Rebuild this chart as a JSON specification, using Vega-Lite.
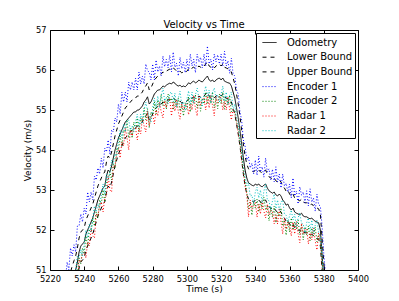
{
"$schema": "https://vega.github.io/schema/vega-lite/v6.json",
"width": 308, "height": 240,
"autosize": {"type": "none"},
"padding": {"left": 50, "top": 30, "right": 41, "bottom": 31},
"background": "white",
"title": {"text": "Velocity vs Time", "fontSize": 10, "font": "DejaVu Sans", "fontWeight": "normal", "color": "black", "offset": -5},
"config": {
  "view": {"stroke": "black", "strokeWidth": 1},
  "axis": {"grid": false, "domain": false, "tickColor": "black", "tickSize": -4, "tickWidth": 1, "labelFont": "DejaVu Sans", "labelFontSize": 8.3, "labelColor": "black", "titleFont": "DejaVu Sans", "titleFontSize": 9, "titleFontWeight": "normal", "titleColor": "black", "labelPadding": 8, "labelFlush": false, "labelOverlap": false},
  "legend": {"orient": "top-right", "offset": 3, "fillColor": "white", "strokeColor": "black", "padding": 2, "symbolOffset": 4, "symbolType": "stroke", "symbolSize": 196, "symbolStrokeWidth": 1, "labelFont": "DejaVu Sans", "labelFontSize": 10, "labelColor": "black", "labelOffset": 10, "rowPadding": 1.7}
},
"layer": [
{
"data": {"values": [
{"t":5228,"Odometry":50.05,"Lower Bound":49.65,"Upper Bound":50.4,"Encoder 1":50.85,"Encoder 2":49.6,"Radar 1":49.65,"Radar 2":49.95},
{"t":5229,"Odometry":50.2,"Lower Bound":49.8,"Upper Bound":50.55,"Encoder 1":50.75,"Encoder 2":50.1,"Radar 1":49.95,"Radar 2":49.9},
{"t":5230,"Odometry":50.35,"Lower Bound":49.95,"Upper Bound":50.7,"Encoder 1":51.2,"Encoder 2":50.05,"Radar 1":50.1,"Radar 2":50.3},
{"t":5231,"Odometry":50.5,"Lower Bound":50.1,"Upper Bound":50.85,"Encoder 1":51.0,"Encoder 2":50.45,"Radar 1":49.9,"Radar 2":50.6},
{"t":5232,"Odometry":50.6,"Lower Bound":50.2,"Upper Bound":50.95,"Encoder 1":51.55,"Encoder 2":50.2,"Radar 1":50.3,"Radar 2":50.4},
{"t":5233,"Odometry":50.75,"Lower Bound":50.35,"Upper Bound":51.1,"Encoder 1":51.35,"Encoder 2":50.65,"Radar 1":50.25,"Radar 2":50.8},
{"t":5234,"Odometry":50.88,"Lower Bound":50.48,"Upper Bound":51.23,"Encoder 1":51.63,"Encoder 2":50.63,"Radar 1":50.73,"Radar 2":50.63},
{"t":5235,"Odometry":51.0,"Lower Bound":50.6,"Upper Bound":51.35,"Encoder 1":51.45,"Encoder 2":51.0,"Radar 1":50.55,"Radar 2":51.0},
{"t":5236,"Odometry":51.2,"Lower Bound":50.8,"Upper Bound":51.55,"Encoder 1":52.1,"Encoder 2":50.85,"Radar 1":50.55,"Radar 2":51.35},
{"t":5237,"Odometry":51.45,"Lower Bound":51.05,"Upper Bound":51.8,"Encoder 1":52.1,"Encoder 2":51.3,"Radar 1":51.25,"Radar 2":51.3},
{"t":5238,"Odometry":51.6,"Lower Bound":51.2,"Upper Bound":51.95,"Encoder 1":52.4,"Encoder 2":51.15,"Radar 1":51.2,"Radar 2":51.5},
{"t":5239,"Odometry":51.65,"Lower Bound":51.25,"Upper Bound":52.0,"Encoder 1":52.2,"Encoder 2":51.55,"Radar 1":51.4,"Radar 2":51.35},
{"t":5240,"Odometry":51.7,"Lower Bound":51.3,"Upper Bound":52.05,"Encoder 1":52.55,"Encoder 2":51.4,"Radar 1":51.45,"Radar 2":51.65},
{"t":5241,"Odometry":51.9,"Lower Bound":51.5,"Upper Bound":52.25,"Encoder 1":52.4,"Encoder 2":51.85,"Radar 1":51.3,"Radar 2":52.0},
{"t":5242,"Odometry":52.0,"Lower Bound":51.6,"Upper Bound":52.35,"Encoder 1":52.95,"Encoder 2":51.6,"Radar 1":51.7,"Radar 2":51.8},
{"t":5243,"Odometry":52.1,"Lower Bound":51.7,"Upper Bound":52.45,"Encoder 1":52.7,"Encoder 2":52.0,"Radar 1":51.6,"Radar 2":52.15},
{"t":5244,"Odometry":52.2,"Lower Bound":51.8,"Upper Bound":52.55,"Encoder 1":52.95,"Encoder 2":51.95,"Radar 1":52.05,"Radar 2":51.95},
{"t":5245,"Odometry":52.3,"Lower Bound":51.9,"Upper Bound":52.65,"Encoder 1":52.75,"Encoder 2":52.3,"Radar 1":51.85,"Radar 2":52.3},
{"t":5246,"Odometry":52.45,"Lower Bound":52.05,"Upper Bound":52.8,"Encoder 1":53.35,"Encoder 2":52.1,"Radar 1":51.8,"Radar 2":52.6},
{"t":5247,"Odometry":52.6,"Lower Bound":52.2,"Upper Bound":52.95,"Encoder 1":53.25,"Encoder 2":52.45,"Radar 1":52.4,"Radar 2":52.45},
{"t":5248,"Odometry":52.75,"Lower Bound":52.35,"Upper Bound":53.1,"Encoder 1":53.55,"Encoder 2":52.3,"Radar 1":52.35,"Radar 2":52.65},
{"t":5249,"Odometry":52.85,"Lower Bound":52.45,"Upper Bound":53.2,"Encoder 1":53.4,"Encoder 2":52.75,"Radar 1":52.6,"Radar 2":52.55},
{"t":5250,"Odometry":52.95,"Lower Bound":52.55,"Upper Bound":53.3,"Encoder 1":53.8,"Encoder 2":52.65,"Radar 1":52.7,"Radar 2":52.9},
{"t":5251,"Odometry":53.05,"Lower Bound":52.65,"Upper Bound":53.4,"Encoder 1":53.55,"Encoder 2":53.0,"Radar 1":52.45,"Radar 2":53.15},
{"t":5252,"Odometry":53.1,"Lower Bound":52.7,"Upper Bound":53.45,"Encoder 1":54.05,"Encoder 2":52.7,"Radar 1":52.8,"Radar 2":52.9},
{"t":5253,"Odometry":53.35,"Lower Bound":52.95,"Upper Bound":53.7,"Encoder 1":53.95,"Encoder 2":53.25,"Radar 1":52.85,"Radar 2":53.4},
{"t":5254,"Odometry":53.5,"Lower Bound":53.1,"Upper Bound":53.85,"Encoder 1":54.25,"Encoder 2":53.25,"Radar 1":53.35,"Radar 2":53.25},
{"t":5255,"Odometry":53.45,"Lower Bound":53.05,"Upper Bound":53.8,"Encoder 1":53.9,"Encoder 2":53.45,"Radar 1":53.0,"Radar 2":53.45},
{"t":5256,"Odometry":53.6,"Lower Bound":53.2,"Upper Bound":53.95,"Encoder 1":54.5,"Encoder 2":53.25,"Radar 1":52.95,"Radar 2":53.75},
{"t":5257,"Odometry":53.8,"Lower Bound":53.4,"Upper Bound":54.15,"Encoder 1":54.45,"Encoder 2":53.65,"Radar 1":53.6,"Radar 2":53.65},
{"t":5258,"Odometry":54.0,"Lower Bound":53.6,"Upper Bound":54.35,"Encoder 1":54.8,"Encoder 2":53.55,"Radar 1":53.6,"Radar 2":53.9},
{"t":5259,"Odometry":54.15,"Lower Bound":53.75,"Upper Bound":54.5,"Encoder 1":54.7,"Encoder 2":54.05,"Radar 1":53.9,"Radar 2":53.85},
{"t":5260,"Odometry":54.3,"Lower Bound":53.9,"Upper Bound":54.65,"Encoder 1":55.15,"Encoder 2":54.0,"Radar 1":54.05,"Radar 2":54.25},
{"t":5261,"Odometry":54.4,"Lower Bound":54.0,"Upper Bound":54.75,"Encoder 1":54.9,"Encoder 2":54.35,"Radar 1":53.8,"Radar 2":54.5},
{"t":5262,"Odometry":54.5,"Lower Bound":54.1,"Upper Bound":54.85,"Encoder 1":55.45,"Encoder 2":54.1,"Radar 1":54.2,"Radar 2":54.3},
{"t":5263,"Odometry":54.6,"Lower Bound":54.2,"Upper Bound":54.95,"Encoder 1":55.2,"Encoder 2":54.5,"Radar 1":54.1,"Radar 2":54.65},
{"t":5264,"Odometry":54.7,"Lower Bound":54.3,"Upper Bound":55.05,"Encoder 1":55.45,"Encoder 2":54.45,"Radar 1":54.55,"Radar 2":54.45},
{"t":5265,"Odometry":54.75,"Lower Bound":54.35,"Upper Bound":55.1,"Encoder 1":55.2,"Encoder 2":54.75,"Radar 1":54.3,"Radar 2":54.75},
{"t":5266,"Odometry":54.8,"Lower Bound":54.4,"Upper Bound":55.15,"Encoder 1":55.7,"Encoder 2":54.3,"Radar 1":54.0,"Radar 2":54.75},
{"t":5267,"Odometry":54.85,"Lower Bound":54.45,"Upper Bound":55.2,"Encoder 1":55.5,"Encoder 2":54.55,"Radar 1":54.5,"Radar 2":54.5},
{"t":5268,"Odometry":54.9,"Lower Bound":54.5,"Upper Bound":55.25,"Encoder 1":55.7,"Encoder 2":54.3,"Radar 1":54.35,"Radar 2":54.6},
{"t":5269,"Odometry":54.95,"Lower Bound":54.55,"Upper Bound":55.3,"Encoder 1":55.5,"Encoder 2":54.7,"Radar 1":54.55,"Radar 2":54.45},
{"t":5270,"Odometry":54.95,"Lower Bound":54.55,"Upper Bound":55.3,"Encoder 1":55.8,"Encoder 2":54.5,"Radar 1":54.55,"Radar 2":54.7},
{"t":5271,"Odometry":55.0,"Lower Bound":54.6,"Upper Bound":55.35,"Encoder 1":55.5,"Encoder 2":54.8,"Radar 1":54.25,"Radar 2":54.9},
{"t":5272,"Odometry":55.0,"Lower Bound":54.6,"Upper Bound":55.35,"Encoder 1":55.95,"Encoder 2":54.45,"Radar 1":54.55,"Radar 2":54.6},
{"t":5273,"Odometry":55.05,"Lower Bound":54.65,"Upper Bound":55.4,"Encoder 1":55.65,"Encoder 2":54.8,"Radar 1":54.4,"Radar 2":54.9},
{"t":5274,"Odometry":55.1,"Lower Bound":54.7,"Upper Bound":55.45,"Encoder 1":55.85,"Encoder 2":54.7,"Radar 1":54.8,"Radar 2":54.65},
{"t":5275,"Odometry":55.2,"Lower Bound":54.8,"Upper Bound":55.55,"Encoder 1":55.65,"Encoder 2":55.05,"Radar 1":54.6,"Radar 2":55.0},
{"t":5276,"Odometry":55.25,"Lower Bound":54.85,"Upper Bound":55.6,"Encoder 1":56.15,"Encoder 2":54.75,"Radar 1":54.45,"Radar 2":55.2},
{"t":5277,"Odometry":55.33,"Lower Bound":54.93,"Upper Bound":55.68,"Encoder 1":55.98,"Encoder 2":55.03,"Radar 1":54.98,"Radar 2":54.98},
{"t":5278,"Odometry":55.15,"Lower Bound":54.75,"Upper Bound":55.5,"Encoder 1":55.95,"Encoder 2":54.55,"Radar 1":54.6,"Radar 2":54.85},
{"t":5279,"Odometry":55.2,"Lower Bound":54.8,"Upper Bound":55.55,"Encoder 1":55.75,"Encoder 2":54.95,"Radar 1":54.8,"Radar 2":54.7},
{"t":5280,"Odometry":55.3,"Lower Bound":54.9,"Upper Bound":55.65,"Encoder 1":56.15,"Encoder 2":54.85,"Radar 1":54.9,"Radar 2":55.05},
{"t":5281,"Odometry":55.4,"Lower Bound":55.0,"Upper Bound":55.75,"Encoder 1":55.75,"Encoder 2":55.2,"Radar 1":54.65,"Radar 2":55.3},
{"t":5282,"Odometry":55.45,"Lower Bound":55.05,"Upper Bound":55.8,"Encoder 1":56.25,"Encoder 2":54.9,"Radar 1":55.0,"Radar 2":55.05},
{"t":5283,"Odometry":55.5,"Lower Bound":55.1,"Upper Bound":55.85,"Encoder 1":55.95,"Encoder 2":55.25,"Radar 1":54.85,"Radar 2":55.35},
{"t":5284,"Odometry":55.5,"Lower Bound":55.1,"Upper Bound":55.85,"Encoder 1":56.1,"Encoder 2":55.1,"Radar 1":55.2,"Radar 2":55.05},
{"t":5285,"Odometry":55.55,"Lower Bound":55.15,"Upper Bound":55.9,"Encoder 1":55.85,"Encoder 2":55.4,"Radar 1":54.95,"Radar 2":55.35},
{"t":5286,"Odometry":55.6,"Lower Bound":55.2,"Upper Bound":55.95,"Encoder 1":56.35,"Encoder 2":55.1,"Radar 1":54.8,"Radar 2":55.55},
{"t":5287,"Odometry":55.58,"Lower Bound":55.18,"Upper Bound":55.93,"Encoder 1":56.08,"Encoder 2":55.28,"Radar 1":55.23,"Radar 2":55.23},
{"t":5288,"Odometry":55.62,"Lower Bound":55.22,"Upper Bound":55.97,"Encoder 1":56.27,"Encoder 2":55.02,"Radar 1":55.07,"Radar 2":55.32},
{"t":5289,"Odometry":55.65,"Lower Bound":55.25,"Upper Bound":56.0,"Encoder 1":56.05,"Encoder 2":55.4,"Radar 1":55.25,"Radar 2":55.15},
{"t":5290,"Odometry":55.67,"Lower Bound":55.27,"Upper Bound":56.02,"Encoder 1":56.37,"Encoder 2":55.22,"Radar 1":55.27,"Radar 2":55.42},
{"t":5291,"Odometry":55.65,"Lower Bound":55.25,"Upper Bound":56.0,"Encoder 1":55.95,"Encoder 2":55.3,"Radar 1":54.85,"Radar 2":55.45},
{"t":5292,"Odometry":55.7,"Lower Bound":55.3,"Upper Bound":56.05,"Encoder 1":56.45,"Encoder 2":55.0,"Radar 1":55.2,"Radar 2":55.2},
{"t":5293,"Odometry":55.67,"Lower Bound":55.27,"Upper Bound":56.02,"Encoder 1":56.07,"Encoder 2":55.27,"Radar 1":54.97,"Radar 2":55.42},
{"t":5294,"Odometry":55.62,"Lower Bound":55.22,"Upper Bound":55.97,"Encoder 1":56.17,"Encoder 2":55.07,"Radar 1":55.27,"Radar 2":55.07},
{"t":5295,"Odometry":55.6,"Lower Bound":55.2,"Upper Bound":55.95,"Encoder 1":55.85,"Encoder 2":55.3,"Radar 1":54.95,"Radar 2":55.3},
{"t":5296,"Odometry":55.62,"Lower Bound":55.22,"Upper Bound":55.97,"Encoder 1":56.32,"Encoder 2":54.97,"Radar 1":54.77,"Radar 2":55.47},
{"t":5297,"Odometry":55.58,"Lower Bound":55.18,"Upper Bound":55.93,"Encoder 1":56.03,"Encoder 2":55.13,"Radar 1":55.18,"Radar 2":55.13},
{"t":5298,"Odometry":55.6,"Lower Bound":55.2,"Upper Bound":55.95,"Encoder 1":56.2,"Encoder 2":54.85,"Radar 1":55.0,"Radar 2":55.2},
{"t":5299,"Odometry":55.58,"Lower Bound":55.18,"Upper Bound":55.93,"Encoder 1":55.93,"Encoder 2":55.18,"Radar 1":55.13,"Radar 2":54.98},
{"t":5300,"Odometry":55.62,"Lower Bound":55.22,"Upper Bound":55.97,"Encoder 1":56.27,"Encoder 2":55.02,"Radar 1":55.17,"Radar 2":55.27},
{"t":5301,"Odometry":55.68,"Lower Bound":55.28,"Upper Bound":56.03,"Encoder 1":55.98,"Encoder 2":55.33,"Radar 1":54.88,"Radar 2":55.48},
{"t":5302,"Odometry":55.65,"Lower Bound":55.25,"Upper Bound":56.0,"Encoder 1":56.4,"Encoder 2":54.95,"Radar 1":55.15,"Radar 2":55.15},
{"t":5303,"Odometry":55.7,"Lower Bound":55.3,"Upper Bound":56.05,"Encoder 1":56.1,"Encoder 2":55.3,"Radar 1":55.0,"Radar 2":55.45},
{"t":5304,"Odometry":55.72,"Lower Bound":55.32,"Upper Bound":56.07,"Encoder 1":56.27,"Encoder 2":55.17,"Radar 1":55.37,"Radar 2":55.17},
{"t":5305,"Odometry":55.68,"Lower Bound":55.28,"Upper Bound":56.03,"Encoder 1":55.93,"Encoder 2":55.38,"Radar 1":55.03,"Radar 2":55.38},
{"t":5306,"Odometry":55.7,"Lower Bound":55.3,"Upper Bound":56.05,"Encoder 1":56.4,"Encoder 2":55.05,"Radar 1":54.85,"Radar 2":55.55},
{"t":5307,"Odometry":55.75,"Lower Bound":55.35,"Upper Bound":56.1,"Encoder 1":56.2,"Encoder 2":55.3,"Radar 1":55.35,"Radar 2":55.3},
{"t":5308,"Odometry":55.72,"Lower Bound":55.32,"Upper Bound":56.07,"Encoder 1":56.32,"Encoder 2":54.97,"Radar 1":55.12,"Radar 2":55.32},
{"t":5309,"Odometry":55.7,"Lower Bound":55.3,"Upper Bound":56.05,"Encoder 1":56.05,"Encoder 2":55.3,"Radar 1":55.25,"Radar 2":55.1},
{"t":5310,"Odometry":55.75,"Lower Bound":55.35,"Upper Bound":56.1,"Encoder 1":56.4,"Encoder 2":55.15,"Radar 1":55.3,"Radar 2":55.4},
{"t":5311,"Odometry":55.8,"Lower Bound":55.4,"Upper Bound":56.15,"Encoder 1":56.1,"Encoder 2":55.45,"Radar 1":55.0,"Radar 2":55.6},
{"t":5312,"Odometry":55.85,"Lower Bound":55.45,"Upper Bound":56.2,"Encoder 1":56.6,"Encoder 2":55.15,"Radar 1":55.35,"Radar 2":55.35},
{"t":5313,"Odometry":55.75,"Lower Bound":55.35,"Upper Bound":56.1,"Encoder 1":56.15,"Encoder 2":55.35,"Radar 1":55.05,"Radar 2":55.5},
{"t":5314,"Odometry":55.72,"Lower Bound":55.32,"Upper Bound":56.07,"Encoder 1":56.27,"Encoder 2":55.17,"Radar 1":55.37,"Radar 2":55.17},
{"t":5315,"Odometry":55.75,"Lower Bound":55.35,"Upper Bound":56.1,"Encoder 1":56.0,"Encoder 2":55.45,"Radar 1":55.1,"Radar 2":55.45},
{"t":5316,"Odometry":55.7,"Lower Bound":55.3,"Upper Bound":56.05,"Encoder 1":56.4,"Encoder 2":55.05,"Radar 1":54.85,"Radar 2":55.55},
{"t":5317,"Odometry":55.75,"Lower Bound":55.35,"Upper Bound":56.1,"Encoder 1":56.2,"Encoder 2":55.3,"Radar 1":55.35,"Radar 2":55.3},
{"t":5318,"Odometry":55.78,"Lower Bound":55.38,"Upper Bound":56.13,"Encoder 1":56.38,"Encoder 2":55.03,"Radar 1":55.18,"Radar 2":55.38},
{"t":5319,"Odometry":55.8,"Lower Bound":55.4,"Upper Bound":56.15,"Encoder 1":56.15,"Encoder 2":55.4,"Radar 1":55.35,"Radar 2":55.2},
{"t":5320,"Odometry":55.75,"Lower Bound":55.35,"Upper Bound":56.1,"Encoder 1":56.4,"Encoder 2":55.15,"Radar 1":55.3,"Radar 2":55.4},
{"t":5321,"Odometry":55.8,"Lower Bound":55.4,"Upper Bound":56.15,"Encoder 1":56.1,"Encoder 2":55.45,"Radar 1":55.0,"Radar 2":55.6},
{"t":5322,"Odometry":55.72,"Lower Bound":55.32,"Upper Bound":56.07,"Encoder 1":56.47,"Encoder 2":55.02,"Radar 1":55.22,"Radar 2":55.22},
{"t":5323,"Odometry":55.7,"Lower Bound":55.3,"Upper Bound":56.05,"Encoder 1":56.1,"Encoder 2":55.3,"Radar 1":55.0,"Radar 2":55.45},
{"t":5324,"Odometry":55.68,"Lower Bound":55.28,"Upper Bound":56.03,"Encoder 1":56.23,"Encoder 2":55.13,"Radar 1":55.33,"Radar 2":55.13},
{"t":5325,"Odometry":55.67,"Lower Bound":55.27,"Upper Bound":56.02,"Encoder 1":55.92,"Encoder 2":55.37,"Radar 1":55.02,"Radar 2":55.37},
{"t":5326,"Odometry":55.6,"Lower Bound":55.2,"Upper Bound":55.95,"Encoder 1":56.3,"Encoder 2":54.95,"Radar 1":54.75,"Radar 2":55.45},
{"t":5327,"Odometry":55.45,"Lower Bound":55.05,"Upper Bound":55.8,"Encoder 1":55.9,"Encoder 2":55.0,"Radar 1":55.05,"Radar 2":55.0},
{"t":5328,"Odometry":55.3,"Lower Bound":54.9,"Upper Bound":55.65,"Encoder 1":55.85,"Encoder 2":55.0,"Radar 1":54.9,"Radar 2":55.15},
{"t":5329,"Odometry":55.05,"Lower Bound":54.65,"Upper Bound":55.4,"Encoder 1":55.5,"Encoder 2":54.7,"Radar 1":54.75,"Radar 2":54.8},
{"t":5330,"Odometry":54.8,"Lower Bound":54.4,"Upper Bound":55.15,"Encoder 1":55.4,"Encoder 2":54.55,"Radar 1":54.4,"Radar 2":54.65},
{"t":5331,"Odometry":54.5,"Lower Bound":54.1,"Upper Bound":54.85,"Encoder 1":54.95,"Encoder 2":54.15,"Radar 1":54.2,"Radar 2":54.25},
{"t":5332,"Odometry":54.15,"Lower Bound":53.75,"Upper Bound":54.5,"Encoder 1":54.75,"Encoder 2":53.9,"Radar 1":53.75,"Radar 2":54.0},
{"t":5333,"Odometry":53.8,"Lower Bound":53.4,"Upper Bound":54.15,"Encoder 1":54.25,"Encoder 2":53.45,"Radar 1":53.5,"Radar 2":53.55},
{"t":5334,"Odometry":53.5,"Lower Bound":53.1,"Upper Bound":53.85,"Encoder 1":54.1,"Encoder 2":53.2,"Radar 1":53.1,"Radar 2":53.35},
{"t":5335,"Odometry":53.3,"Lower Bound":52.9,"Upper Bound":53.65,"Encoder 1":53.75,"Encoder 2":52.95,"Radar 1":52.9,"Radar 2":53.1},
{"t":5336,"Odometry":53.18,"Lower Bound":52.78,"Upper Bound":53.53,"Encoder 1":53.83,"Encoder 2":52.53,"Radar 1":52.33,"Radar 2":53.18},
{"t":5337,"Odometry":53.15,"Lower Bound":52.75,"Upper Bound":53.5,"Encoder 1":53.55,"Encoder 2":52.7,"Radar 1":52.75,"Radar 2":52.85},
{"t":5338,"Odometry":53.12,"Lower Bound":52.72,"Upper Bound":53.47,"Encoder 1":53.67,"Encoder 2":52.37,"Radar 1":52.52,"Radar 2":52.87},
{"t":5339,"Odometry":53.1,"Lower Bound":52.7,"Upper Bound":53.45,"Encoder 1":53.4,"Encoder 2":52.7,"Radar 1":52.65,"Radar 2":52.65},
{"t":5340,"Odometry":53.15,"Lower Bound":52.75,"Upper Bound":53.5,"Encoder 1":53.75,"Encoder 2":52.55,"Radar 1":52.7,"Radar 2":52.95},
{"t":5341,"Odometry":53.12,"Lower Bound":52.72,"Upper Bound":53.47,"Encoder 1":53.37,"Encoder 2":52.77,"Radar 1":52.32,"Radar 2":53.07},
{"t":5342,"Odometry":53.15,"Lower Bound":52.75,"Upper Bound":53.5,"Encoder 1":53.85,"Encoder 2":52.45,"Radar 1":52.65,"Radar 2":52.8},
{"t":5343,"Odometry":53.1,"Lower Bound":52.7,"Upper Bound":53.45,"Encoder 1":53.45,"Encoder 2":52.7,"Radar 1":52.4,"Radar 2":53.0},
{"t":5344,"Odometry":53.08,"Lower Bound":52.68,"Upper Bound":53.43,"Encoder 1":53.58,"Encoder 2":52.53,"Radar 1":52.73,"Radar 2":52.68},
{"t":5345,"Odometry":53.12,"Lower Bound":52.72,"Upper Bound":53.47,"Encoder 1":53.32,"Encoder 2":52.82,"Radar 1":52.47,"Radar 2":52.97},
{"t":5346,"Odometry":53.15,"Lower Bound":52.75,"Upper Bound":53.5,"Encoder 1":53.8,"Encoder 2":52.5,"Radar 1":52.3,"Radar 2":53.15},
{"t":5347,"Odometry":53.05,"Lower Bound":52.65,"Upper Bound":53.4,"Encoder 1":53.45,"Encoder 2":52.6,"Radar 1":52.65,"Radar 2":52.75},
{"t":5348,"Odometry":52.98,"Lower Bound":52.58,"Upper Bound":53.33,"Encoder 1":53.53,"Encoder 2":52.23,"Radar 1":52.38,"Radar 2":52.73},
{"t":5349,"Odometry":52.95,"Lower Bound":52.55,"Upper Bound":53.3,"Encoder 1":53.25,"Encoder 2":52.55,"Radar 1":52.5,"Radar 2":52.5},
{"t":5350,"Odometry":52.92,"Lower Bound":52.52,"Upper Bound":53.27,"Encoder 1":53.52,"Encoder 2":52.32,"Radar 1":52.47,"Radar 2":52.72},
{"t":5351,"Odometry":52.95,"Lower Bound":52.55,"Upper Bound":53.3,"Encoder 1":53.2,"Encoder 2":52.6,"Radar 1":52.15,"Radar 2":52.9},
{"t":5352,"Odometry":52.88,"Lower Bound":52.48,"Upper Bound":53.23,"Encoder 1":53.58,"Encoder 2":52.18,"Radar 1":52.38,"Radar 2":52.53},
{"t":5353,"Odometry":52.85,"Lower Bound":52.45,"Upper Bound":53.2,"Encoder 1":53.2,"Encoder 2":52.45,"Radar 1":52.15,"Radar 2":52.75},
{"t":5354,"Odometry":52.9,"Lower Bound":52.5,"Upper Bound":53.25,"Encoder 1":53.4,"Encoder 2":52.35,"Radar 1":52.55,"Radar 2":52.5},
{"t":5355,"Odometry":52.85,"Lower Bound":52.45,"Upper Bound":53.2,"Encoder 1":53.05,"Encoder 2":52.55,"Radar 1":52.2,"Radar 2":52.7},
{"t":5356,"Odometry":52.75,"Lower Bound":52.35,"Upper Bound":53.1,"Encoder 1":53.4,"Encoder 2":52.1,"Radar 1":51.9,"Radar 2":52.75},
{"t":5357,"Odometry":52.7,"Lower Bound":52.3,"Upper Bound":53.05,"Encoder 1":53.1,"Encoder 2":52.25,"Radar 1":52.3,"Radar 2":52.4},
{"t":5358,"Odometry":52.62,"Lower Bound":52.22,"Upper Bound":52.97,"Encoder 1":53.17,"Encoder 2":51.87,"Radar 1":52.02,"Radar 2":52.37},
{"t":5359,"Odometry":52.65,"Lower Bound":52.25,"Upper Bound":53.0,"Encoder 1":52.95,"Encoder 2":52.25,"Radar 1":52.2,"Radar 2":52.2},
{"t":5360,"Odometry":52.55,"Lower Bound":52.15,"Upper Bound":52.9,"Encoder 1":53.15,"Encoder 2":51.95,"Radar 1":52.1,"Radar 2":52.35},
{"t":5361,"Odometry":52.5,"Lower Bound":52.1,"Upper Bound":52.85,"Encoder 1":52.8,"Encoder 2":52.3,"Radar 1":51.85,"Radar 2":52.5},
{"t":5362,"Odometry":52.55,"Lower Bound":52.15,"Upper Bound":52.9,"Encoder 1":53.3,"Encoder 2":52.0,"Radar 1":52.2,"Radar 2":52.25},
{"t":5363,"Odometry":52.45,"Lower Bound":52.05,"Upper Bound":52.8,"Encoder 1":52.85,"Encoder 2":52.2,"Radar 1":51.9,"Radar 2":52.4},
{"t":5364,"Odometry":52.42,"Lower Bound":52.02,"Upper Bound":52.77,"Encoder 1":52.97,"Encoder 2":52.02,"Radar 1":52.22,"Radar 2":52.07},
{"t":5365,"Odometry":52.4,"Lower Bound":52.0,"Upper Bound":52.75,"Encoder 1":52.65,"Encoder 2":52.25,"Radar 1":51.9,"Radar 2":52.3},
{"t":5366,"Odometry":52.38,"Lower Bound":51.98,"Upper Bound":52.73,"Encoder 1":53.08,"Encoder 2":51.88,"Radar 1":51.68,"Radar 2":52.43},
{"t":5367,"Odometry":52.42,"Lower Bound":52.02,"Upper Bound":52.77,"Encoder 1":52.87,"Encoder 2":52.12,"Radar 1":52.17,"Radar 2":52.17},
{"t":5368,"Odometry":52.35,"Lower Bound":51.95,"Upper Bound":52.7,"Encoder 1":52.95,"Encoder 2":51.75,"Radar 1":51.9,"Radar 2":52.15},
{"t":5369,"Odometry":52.33,"Lower Bound":51.93,"Upper Bound":52.68,"Encoder 1":52.68,"Encoder 2":52.08,"Radar 1":52.03,"Radar 2":51.93},
{"t":5370,"Odometry":52.33,"Lower Bound":51.93,"Upper Bound":52.68,"Encoder 1":52.98,"Encoder 2":51.88,"Radar 1":52.03,"Radar 2":52.18},
{"t":5371,"Odometry":52.3,"Lower Bound":51.9,"Upper Bound":52.65,"Encoder 1":52.6,"Encoder 2":52.1,"Radar 1":51.65,"Radar 2":52.3},
{"t":5372,"Odometry":52.28,"Lower Bound":51.88,"Upper Bound":52.63,"Encoder 1":53.03,"Encoder 2":51.73,"Radar 1":51.93,"Radar 2":51.98},
{"t":5373,"Odometry":52.3,"Lower Bound":51.9,"Upper Bound":52.65,"Encoder 1":52.7,"Encoder 2":52.05,"Radar 1":51.75,"Radar 2":52.25},
{"t":5374,"Odometry":52.25,"Lower Bound":51.85,"Upper Bound":52.6,"Encoder 1":52.8,"Encoder 2":51.85,"Radar 1":52.05,"Radar 2":51.9},
{"t":5375,"Odometry":52.22,"Lower Bound":51.82,"Upper Bound":52.57,"Encoder 1":52.47,"Encoder 2":52.07,"Radar 1":51.72,"Radar 2":52.12},
{"t":5376,"Odometry":52.2,"Lower Bound":51.8,"Upper Bound":52.55,"Encoder 1":52.9,"Encoder 2":51.7,"Radar 1":51.5,"Radar 2":52.25},
{"t":5377,"Odometry":52.18,"Lower Bound":51.78,"Upper Bound":52.53,"Encoder 1":52.63,"Encoder 2":51.88,"Radar 1":51.93,"Radar 2":51.93},
{"t":5378,"Odometry":52.0,"Lower Bound":51.6,"Upper Bound":52.4,"Encoder 1":52.6,"Encoder 2":51.7,"Radar 1":51.75,"Radar 2":51.85},
{"t":5379,"Odometry":51.4,"Lower Bound":51.0,"Upper Bound":51.8,"Encoder 1":52.1,"Encoder 2":51.2,"Radar 1":51.1,"Radar 2":51.3},
{"t":5380,"Odometry":50.8,"Lower Bound":50.4,"Upper Bound":51.2,"Encoder 1":51.4,"Encoder 2":50.6,"Radar 1":50.55,"Radar 2":50.7},
{"t":5381,"Odometry":50.3,"Lower Bound":49.9,"Upper Bound":50.7,"Encoder 1":50.9,"Encoder 2":50.1,"Radar 1":50.0,"Radar 2":50.2},
{"t":5382,"Odometry":50.0,"Lower Bound":49.6,"Upper Bound":50.4,"Encoder 1":50.4,"Encoder 2":49.8,"Radar 1":49.7,"Radar 2":49.9}
]},
"transform": [{"fold": ["Odometry", "Lower Bound", "Upper Bound", "Encoder 1", "Encoder 2", "Radar 1", "Radar 2"], "as": ["series", "v"]}],
"mark": {"type": "line", "clip": true, "strokeWidth": 1},
"encoding": {
  "x": {"field": "t", "type": "quantitative", "scale": {"domain": [5220, 5400], "nice": false, "zero": false}, "axis": {"values": [5220, 5240, 5260, 5280, 5300, 5320, 5340, 5360, 5380, 5400], "title": "Time (s)", "format": "d", "titlePadding": 2, "labelPadding": 8.5}},
  "y": {"field": "v", "type": "quantitative", "scale": {"domain": [51, 57], "nice": false, "zero": false}, "axis": {"values": [51, 52, 53, 54, 55, 56, 57], "title": "Velocity (m/s)", "format": "d", "titlePadding": 3}},
  "color": {"field": "series", "type": "nominal", "scale": {"domain": ["Odometry", "Lower Bound", "Upper Bound", "Encoder 1", "Encoder 2", "Radar 1", "Radar 2"], "range": ["#000000", "#000000", "#000000", "#0000ff", "#008000", "#ff0000", "#00bfbf"]}, "legend": {"title": null}},
  "strokeDash": {"field": "series", "type": "nominal", "scale": {"domain": ["Odometry", "Lower Bound", "Upper Bound", "Encoder 1", "Encoder 2", "Radar 1", "Radar 2"], "range": [[1, 0], [4, 4], [4, 4], [1, 2], [1, 2], [1, 2], [1, 2]]}, "legend": {"title": null}}
}
},
{
"data": {"values": [{"t": 5300, "v": 54}]},
"mark": {"type": "point", "opacity": 0},
"encoding": {
  "x": {"field": "t", "type": "quantitative", "axis": {"orient": "top", "labels": false, "title": null, "values": [5220, 5240, 5260, 5280, 5300, 5320, 5340, 5360, 5380, 5400]}},
  "y": {"field": "v", "type": "quantitative", "axis": {"orient": "right", "labels": false, "title": null, "values": [51, 52, 53, 54, 55, 56, 57]}}
}
}
],
"resolve": {"axis": {"x": "independent", "y": "independent"}}
}
